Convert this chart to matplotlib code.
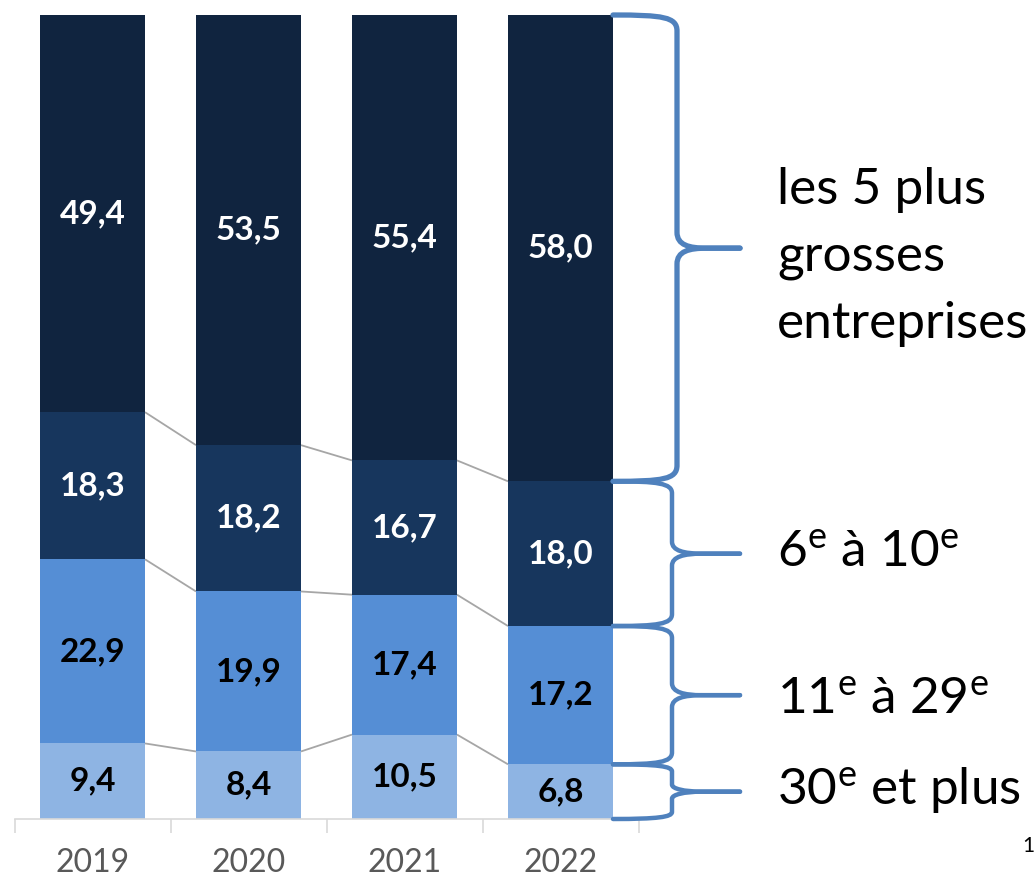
import matplotlib
matplotlib.use("Agg")
import matplotlib.pyplot as plt
import numpy as np
from matplotlib.path import Path
from matplotlib.patches import PathPatch

plt.rcParams['font.family'] = ['Lato', 'DejaVu Sans']
plt.rcParams['mathtext.fontset'] = 'custom'
plt.rcParams['mathtext.rm'] = 'Lato'
plt.rcParams['mathtext.it'] = 'Lato:italic'
plt.rcParams['mathtext.bf'] = 'Lato:bold'

# ---- data ----
categories = ['2019', '2020', '2021', '2022']
s30plus = [9.4, 8.4, 10.5, 6.8]        # 30e et plus
s11_29 = [22.9, 19.9, 17.4, 17.2]      # 11e à 29e
s6_10 = [18.3, 18.2, 16.7, 18.0]       # 6e à 10e
s_top5 = [49.4, 53.5, 55.4, 58.0]      # les 5 plus grosses entreprises
series = [s30plus, s11_29, s6_10, s_top5]
series_labels = ['30$^{\\mathrm{e}}$ et plus', '11$^{\\mathrm{e}}$ à 29$^{\\mathrm{e}}$',
                 '6$^{\\mathrm{e}}$ à 10$^{\\mathrm{e}}$']
top_label_lines = ['les 5 plus', 'grosses', 'entreprises']

colors = ['#8EB4E3', '#558ED5', '#17365D', '#10243F']
text_colors = ['black', 'black', 'white', 'white']

W, H = 1036, 883
fig = plt.figure(figsize=(W / 100, H / 100), dpi=100)
fig.patch.set_facecolor('white')
ax = fig.add_axes([14.5 / W, 64 / H, 624 / W, 804 / H])

x = np.arange(len(categories))
bw = 0.673
bottom = np.zeros(len(categories))
cums = []
for vals, col, tc in zip(series, colors, text_colors):
    vals = np.array(vals)
    ax.bar(x, vals, bw, bottom=bottom, color=col, edgecolor='none', zorder=2)
    for xi, v, b in zip(x, vals, bottom):
        ax.text(xi, b + v / 2, f"{v:.1f}".replace('.', ','), ha='center', va='center',
                color=tc, fontsize=24, fontweight='bold', zorder=3)
    bottom = bottom + vals
    cums.append(bottom.copy())

# connector lines between bars
for c in cums[:-1]:
    for i in range(len(categories) - 1):
        ax.plot([x[i] + bw / 2, x[i + 1] - bw / 2], [c[i], c[i + 1]],
                color='#A6A6A6', lw=1.3, zorder=1, solid_capstyle='butt')

ax.set_xlim(-0.5, len(categories) - 0.5)
ax.set_ylim(0, 100)
for s in ['top', 'right', 'left']:
    ax.spines[s].set_visible(False)
ax.spines['bottom'].set_color('#D9D9D9')
ax.spines['bottom'].set_linewidth(1.2)
ax.set_yticks([])
ax.set_xticks(x)
ax.set_xticklabels(categories, fontsize=23, color='#595959')
ax.tick_params(axis='x', which='major', length=0, pad=21)
ax.set_xticks(np.arange(-0.5, len(categories), 1.0), minor=True)
ax.tick_params(axis='x', which='minor', length=10, width=1.2, color='#D9D9D9')

# ---- braces (based on the 2022 bar) ----
fig.canvas.draw()
brace_color = '#4F81BD'
last = len(categories) - 1
levels = [0.0] + [c[last] for c in cums]
x_start_data = x[last] + bw / 2


def to_px(xd, yd):
    px, py = ax.transData.transform((xd, yd))
    return px, py


def brace(y_bot_px, y_top_px, xs, xv, xtip, r, lw):
    ym = (y_bot_px + y_top_px) / 2
    verts = [(xs, y_top_px), (xv - 14, y_top_px), (xv, y_top_px - 2), (xv, y_top_px - r),
             (xv, ym + r),
             (xv, ym + 3), (xv + 12, ym), (xv + 30, ym),
             (xtip, ym)]
    codes = [Path.MOVETO, Path.CURVE4, Path.CURVE4, Path.CURVE4,
             Path.LINETO,
             Path.CURVE4, Path.CURVE4, Path.CURVE4,
             Path.LINETO]
    verts2 = [(xtip, ym), (xv + 30, ym),
              (xv + 12, ym), (xv, ym - 3), (xv, ym - r),
              (xv, y_bot_px + r),
              (xv, y_bot_px + 2), (xv - 14, y_bot_px), (xs, y_bot_px)]
    codes2 = [Path.MOVETO, Path.LINETO,
              Path.CURVE4, Path.CURVE4, Path.CURVE4,
              Path.LINETO,
              Path.CURVE4, Path.CURVE4, Path.CURVE4]
    for vv, cc in ((verts, codes), (verts2, codes2)):
        vv = [(a / W, b / H) for a, b in vv]
        fig.add_artist(PathPatch(Path(vv, cc), transform=fig.transFigure, fill=False,
                                 edgecolor=brace_color, lw=lw, capstyle='round',
                                 joinstyle='round'))
    return ym


specs = [  # (xv, r, lw) per segment from bottom
    (672, 7, 3.2),
    (672, 12, 3.2),
    (672, 12, 3.2),
    (677, 16, 3.8),
]
xs_px, _ = to_px(x_start_data, 0)
for k in range(4):
    _, yb = to_px(x_start_data, levels[k])
    _, yt = to_px(x_start_data, levels[k + 1])
    xv, r, lw = specs[k]
    brace(yb, yt, xs_px, xv, 740, r, lw)

label_x = 777 / W
fs_right = 37
label_baselines = [805, 714, 567]
for lab, yb in zip(series_labels, label_baselines):
    fig.text(label_x, 1 - yb / H, lab, fontsize=fs_right, ha='left', va='baseline', color='black')
for line, yb in zip(top_label_lines, [204, 271, 338]):
    fig.text(label_x, 1 - yb / H, line, fontsize=fs_right, ha='left', va='baseline', color='black')

fig.text(1022 / W, 1 - 852 / H, '1', fontsize=15, ha='left', va='baseline', color='black')

fig.savefig('out.png', dpi=100)
